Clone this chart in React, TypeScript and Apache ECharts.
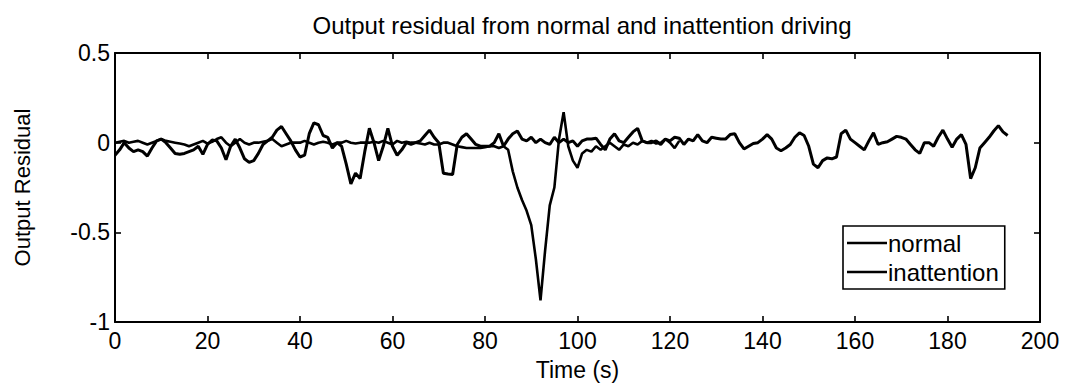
import React, { useEffect, useRef } from "react";
import * as echarts from "echarts";

// Sampling: one value per second, starting at t = 0 s
const normalValues: number[] = [
  -0.07, -0.04, 0.0, -0.03, -0.05, -0.04, -0.05, -0.075, -0.03, 0.01,
  0.02, 0.0, -0.03, -0.06, -0.065, -0.06, -0.05, -0.04, -0.02, -0.065,
  -0.01, 0.015, 0.01, -0.03, -0.095, -0.02, 0.02, -0.03, -0.09, -0.11,
  -0.1, -0.06, -0.01, 0.01, 0.03, 0.07, 0.09, 0.05, 0.01, -0.04,
  -0.08, -0.07, 0.05, 0.11, 0.1, 0.04, 0.03, -0.03, 0.0, -0.02,
  -0.12, -0.23, -0.17, -0.2, -0.05, 0.08, 0.0, -0.1, -0.02, 0.08,
  -0.02, -0.07, -0.04, 0.0, -0.01, 0.0, 0.01, 0.04, 0.07, 0.03,
  0.0, -0.17, -0.175, -0.178, -0.01, 0.03, 0.05, 0.02, -0.01, -0.02,
  -0.02, -0.02, 0.0, 0.05, -0.02, 0.02, 0.05, 0.065, 0.02, 0.01,
  0.03, 0.0, 0.02, 0.0, -0.01, 0.03, 0.0, 0.02, 0.0, 0.01,
  -0.02, 0.01, 0.02, 0.02, 0.025, -0.01, -0.04, 0.02, 0.05, 0.01,
  0.0, 0.03, 0.06, 0.08, 0.01, 0.0, 0.0, 0.01, -0.01, 0.02,
  0.01, 0.03, 0.025, -0.01, 0.02, 0.01, 0.045, 0.01, 0.0, 0.03,
  0.025, 0.02, 0.02, 0.045, 0.05, 0.0, -0.035, -0.02, -0.005, 0.0,
  0.02, 0.045, 0.02, -0.03, -0.045, -0.03, -0.01, 0.03, 0.055, 0.04,
  -0.02, -0.12, -0.14, -0.1, -0.085, -0.09, -0.08, 0.05, 0.07, 0.02,
  0.0, -0.02, -0.04, 0.01, 0.055, -0.01, 0.0, 0.005, 0.02, 0.035,
  0.03, 0.02, -0.01, -0.04, -0.06, 0.0, 0.0, -0.02, 0.03, 0.07,
  0.02, -0.025, 0.02, 0.045, -0.01, -0.2, -0.14, -0.03, 0.0, 0.03,
  0.065, 0.095, 0.06, 0.04,
];

const inattentionValues: number[] = [
  0.0, 0.005, 0.01, 0.0, 0.005, 0.01, 0.0, -0.01, 0.0, 0.01,
  0.02, 0.01, 0.005, 0.0, -0.005, -0.01, -0.02, -0.01, 0.0, 0.01,
  -0.005, 0.005, 0.02, 0.03, 0.0, -0.02, 0.0, 0.02, 0.0, -0.01,
  0.0, 0.0, 0.005, 0.01, 0.02, 0.0, -0.02, -0.01, 0.0, 0.0,
  0.0, 0.01, 0.0, -0.01, 0.0, 0.005, 0.0, -0.01, 0.0, 0.0,
  0.01, 0.0, -0.005, 0.0, 0.0, 0.0, 0.005, 0.0, 0.01, 0.0,
  -0.01, 0.01, 0.0, 0.005, 0.0, 0.0, -0.005, -0.01, 0.0, -0.01,
  -0.01, 0.0, 0.0, -0.01, -0.02, -0.025, -0.03, -0.03, -0.03, -0.03,
  -0.025, -0.02, -0.02, -0.03, -0.02, -0.04, -0.16, -0.25, -0.32, -0.38,
  -0.46, -0.65, -0.88, -0.6, -0.35, -0.25, 0.02, 0.17, -0.02, -0.1,
  -0.14, -0.06, -0.04, -0.05, -0.02, -0.04, -0.02, 0.0, -0.02, -0.04,
  -0.01, -0.02, 0.0, -0.01, 0.01, 0.0, 0.01, -0.005, 0.0, 0.02,
  0.0, -0.03, 0.01,
];

const xTicks = { min: 0, max: 200, interval: 20 };
const yTicks = { min: -1, max: 0.5, interval: 0.5 };

const titleText = "Output residual from normal and inattention driving";
const xName = "Time (s)";
const yName = "Output Residual";
const seriesNames = ["normal", "inattention"];

const FONT = "'Liberation Sans', Arial, Helvetica, sans-serif";

export default function App() {
  const ref = useRef<HTMLDivElement>(null);
  useEffect(() => {
    document.body.style.margin = "0";
    if (!ref.current) return;
    const chart = echarts.init(ref.current, undefined, { renderer: "svg" });
    const toPairs = (arr: number[]) => arr.map((v, i) => [i, v]);
    const axisCommon = {
      axisLine: { show: true, onZero: false, lineStyle: { color: "#000", width: 2 } },
      axisTick: { show: true, inside: true, length: 6, lineStyle: { color: "#000", width: 1.6 } },
      splitLine: { show: false },
    };
    chart.setOption({
      animation: false,
      backgroundColor: "#fff",
      title: {
        text: titleText,
        left: 577,
        top: 8,
        textAlign: "center",
        textStyle: { fontFamily: FONT, fontSize: 24, fontWeight: "normal", color: "#000" },
      },
      grid: { left: 115, right: 33, top: 53, bottom: 63, containLabel: false },
      legend: {
        orient: "vertical",
        left: 843,
        top: 226,
        data: seriesNames,
        icon: "rect",
        backgroundColor: "#fff",
        borderColor: "#000",
        borderWidth: 1.6,
        padding: [5, 6, 5, 4],
        itemGap: 5,
        itemWidth: 40,
        itemHeight: 2.5,
        textStyle: { fontFamily: FONT, fontSize: 24, color: "#000", padding: [0, 0, 0, -4] },
      },
      xAxis: [
        {
          type: "value",
          ...xTicks,
          position: "bottom",
          ...axisCommon,
          name: xName,
          nameLocation: "middle",
          nameGap: 36,
          nameTextStyle: { fontFamily: FONT, fontSize: 23, color: "#000" },
          axisLabel: { fontFamily: FONT, fontSize: 23, color: "#000", margin: 7 },
        },
        {
          type: "value",
          ...xTicks,
          position: "top",
          ...axisCommon,
          axisLabel: { show: false },
        },
      ],
      yAxis: [
        {
          type: "value",
          ...yTicks,
          position: "left",
          ...axisCommon,
          name: yName,
          nameLocation: "middle",
          nameGap: 82,
          nameTextStyle: { fontFamily: FONT, fontSize: 22, color: "#000" },
          axisLabel: {
            fontFamily: FONT,
            fontSize: 23,
            color: "#000",
            margin: 5,
            formatter: (v: number) => String(v),
          },
        },
        {
          type: "value",
          ...yTicks,
          position: "right",
          ...axisCommon,
          axisLabel: { show: false },
        },
      ],
      series: [
        {
          name: seriesNames[0],
          type: "line",
          data: toPairs(normalValues),
          symbol: "none",
          lineStyle: { color: "#000", width: 3 },
          itemStyle: { color: "#000" },
        },
        {
          name: seriesNames[1],
          type: "line",
          data: toPairs(inattentionValues),
          symbol: "none",
          lineStyle: { color: "#000", width: 2.6 },
          itemStyle: { color: "#000" },
        },
      ],
    });
    return () => chart.dispose();
  }, []);
  return <div ref={ref} style={{ width: 1073, height: 386 }} />;
}
